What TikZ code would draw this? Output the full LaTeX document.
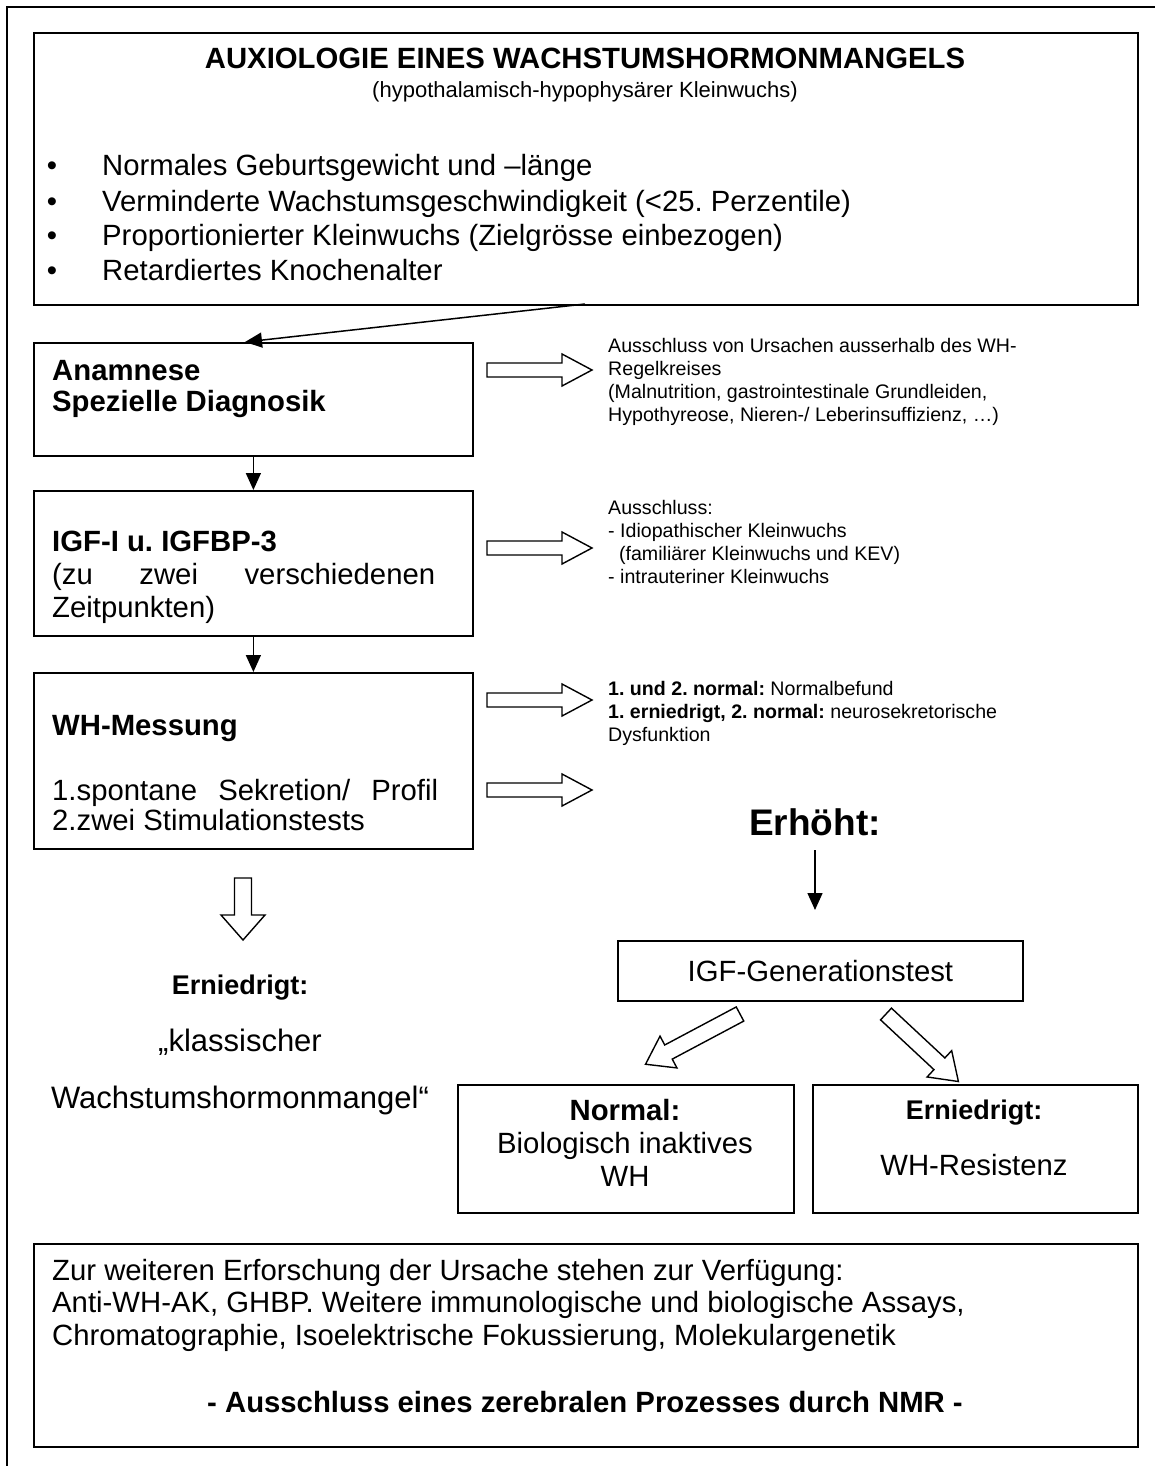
\documentclass[tikz,border=0pt]{standalone}
\usepackage{fontspec}
\setmainfont{Liberation Sans}
\usetikzlibrary{arrows.meta}
\frenchspacing
\tikzset{
  frameline/.style={line width=2pt},
  box/.style={draw, line width=1.8pt, inner sep=0pt, anchor=north west},
  hollow/.style={draw, line width=1.4pt, line join=miter, fill=white},
  solidarr/.style={line width=1.5pt, -{Triangle[length=17pt,width=15pt]}},
  big/.style={inner sep=0pt, text height=21pt, text depth=0pt, font=\fontsize{29.3}{34}\selectfont},
  bigb/.style={big, font=\fontsize{29.3}{34}\selectfont\bfseries},
  midb/.style={inner sep=0pt, text height=19.3pt, text depth=0pt, font=\fontsize{27}{32}\selectfont\bfseries},
  quote/.style={inner sep=0pt, text height=22pt, text depth=0pt, font=\fontsize{31}{36}\selectfont},
  sub/.style={inner sep=0pt, text height=15.8pt, text depth=0pt, font=\fontsize{22}{26}\selectfont},
  small/.style={inner sep=0pt, text height=14pt, text depth=0pt, anchor=west, font=\fontsize{19.6}{23}\selectfont},
  huge/.style={inner sep=0pt, text height=26.5pt, text depth=0pt, font=\fontsize{37}{44}\selectfont\bfseries},
}
\newcommand\hollowarr[6]{% tail, angle, length, shaft half, head half, head length
  \begin{scope}[shift={#1},rotate=#2]
    \draw[hollow] (0,-#4) -- ({#3-#6},-#4) -- ({#3-#6},-#5) -- (#3,0) -- ({#3-#6},#5) -- ({#3-#6},#4) -- (0,#4) -- cycle;
  \end{scope}}
\begin{document}
\frenchspacing
\begin{tikzpicture}[x=1pt,y=-1pt]
\useasboundingbox (0,0) rectangle (1155,1466);
\draw[frameline] (7,1480) -- (7,7) -- (1170,7);

% top box
\node[box, minimum width=1104pt, minimum height=272pt] (b1) at (33,32) {};
\node[bigb] (t1) at (585,58) {AUXIOLOGIE EINES WACHSTUMSHORMONMANGELS};
\node[sub] (t2) at (585,90) {(hypothalamisch-hypophysärer Kleinwuchs)};
\foreach \yy/\tt [count=\i] in {165/Normales Geburtsgewicht und –länge,
  201/Verminderte Wachstumsgeschwindigkeit (<25. Perzentile),
  235/Proportionierter Kleinwuchs (Zielgrösse einbezogen),
  270/Retardiertes Knochenalter}{
  \node[big] (bu\i) at (52,\yy) {•};
  \node[big, anchor=west] (bt\i) at (102,\yy) {\tt};
}

% left column boxes
\node[box, minimum width=439pt, minimum height=113pt] (b2) at (33,342) {};
\node[bigb, anchor=west] (a1) at (52,370) {Anamnese};
\node[bigb, anchor=west] (a2) at (52,401) {Spezielle Diagnosik};

\node[box, minimum width=439pt, minimum height=145pt] (b3) at (33,490) {};
\node[bigb, anchor=west] (c1) at (52,541) {IGF-I u. IGFBP-3};
\node[big, anchor=west] (c2) at (52,574) {\makebox[383pt][s]{(zu zwei verschiedenen}};
\node[big, anchor=west] (c3) at (52,607) {Zeitpunkten)};

\node[box, minimum width=439pt, minimum height=176pt] (b4) at (33,672) {};
\node[bigb, anchor=west] (d1) at (52,725) {WH-Messung};
\node[big, anchor=west] (d2) at (52,790) {\makebox[386pt][s]{1.spontane Sekretion/ Profil}};
\node[big, anchor=west] (d3) at (52,820) {2.zwei Stimulationstests};

% solid arrows left
\coordinate (s1) at (585,304);
\coordinate (e1) at (245,342);
\draw[solidarr] (s1) -- (e1);
\draw[solidarr] (b2.south) -- (b3.north);
\draw[solidarr] (b3.south) -- (b4.north);

% hollow right arrows
\hollowarr{(487,370)}{0}{105}{7}{16}{30}
\hollowarr{(487,548)}{0}{105}{7}{16}{30}
\hollowarr{(487,700)}{0}{105}{7}{16}{30}
\hollowarr{(487,790)}{0}{105}{7}{16}{30}

% right texts
\node[small] (r1) at (608,345) {Ausschluss von Ursachen ausserhalb des WH-};
\node[small] (r2) at (608,368) {Regelkreises};
\node[small] (r3) at (608,391) {(Malnutrition, gastrointestinale Grundleiden,};
\node[small] (r4) at (608,414) {Hypothyreose, Nieren-/ Leberinsuffizienz, …)};

\node[small] (q1) at (608,507) {Ausschluss:};
\node[small] (q2) at (608,530) {- Idiopathischer Kleinwuchs};
\node[small] (q3) at (608,553) {\ \ (familiärer Kleinwuchs und KEV)};
\node[small] (q4) at (608,576) {- intrauteriner Kleinwuchs};

\node[small] (p1) at (608,688) {\textbf{1. und 2. normal:} Normalbefund};
\node[small] (p2) at (608,711) {\textbf{1. erniedrigt, 2. normal:} neurosekretorische};
\node[small] (p3) at (608,734) {Dysfunktion};

% right branch
\node[huge] (erh) at (815,822) {Erhöht:};
\coordinate (s2) at (815,850);
\coordinate (e2) at (815,910);
\draw[solidarr] (s2) -- (e2);
\node[box, minimum width=405pt, minimum height=60pt] (igf) at (617,940) {};
\node[big] (igft) at (igf.center) {IGF-Generationstest};

\hollowarr{(740,1014)}{-152}{107}{8}{18}{26}
\hollowarr{(886,1014)}{-43}{99}{8}{18}{26}

\node[box, minimum width=336pt, minimum height=128pt] (nb) at (457,1084) {};
\node[bigb] (n1) at (625,1110) {Normal:};
\node[big] (n2) at (625,1143) {Biologisch inaktives};
\node[big] (n3) at (625,1176) {WH};

\node[box, minimum width=325pt, minimum height=128pt] (eb) at (812,1084) {};
\node[midb] (m1) at (974,1110) {Erniedrigt:};
\node[big] (m2) at (974,1165) {WH-Resistenz};

% left branch
\hollowarr{(243,878)}{-90}{62}{8.5}{22}{25}
\node[midb] (l1) at (240,985) {Erniedrigt:};
\node[quote] (l2) at (240,1040) {„klassischer};
\node[quote] (l3) at (240,1097) {Wachstumshormonmangel“};

% bottom box
\node[box, minimum width=1104pt, minimum height=203pt] (b5) at (33,1243) {};
\node[big, anchor=west] (z1) at (52,1270) {Zur weiteren Erforschung der Ursache stehen zur Verfügung:};
\node[big, anchor=west] (z2) at (52,1302) {Anti-WH-AK, GHBP. Weitere immunologische und biologische Assays,};
\node[big, anchor=west] (z3) at (52,1335) {Chromatographie, Isoelektrische Fokussierung, Molekulargenetik};
\node[bigb] (z4) at (585,1402) {- Ausschluss eines zerebralen Prozesses durch NMR -};
\end{tikzpicture}
\end{document}
